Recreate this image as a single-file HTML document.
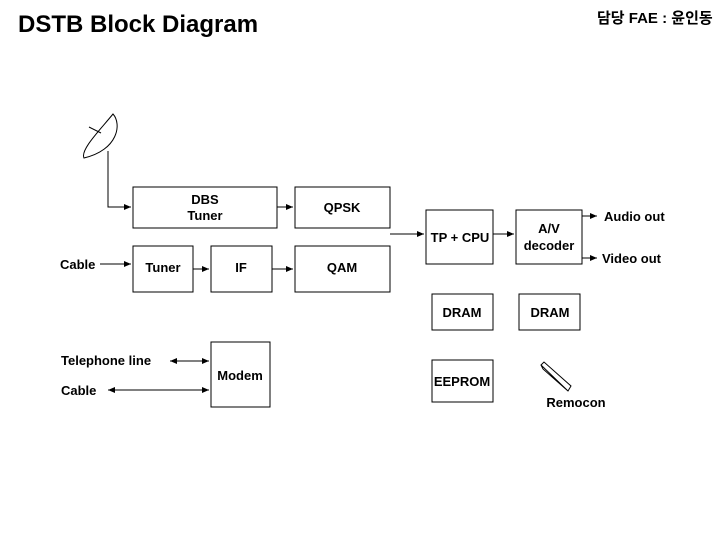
<!DOCTYPE html>
<html><head><meta charset="utf-8"><style>
body{margin:0;background:#fff;}
svg text{font-family:"Liberation Sans","Noto Sans CJK KR",sans-serif;font-weight:bold;font-size:13px;fill:#000;}
</style></head><body>
<svg width="720" height="540" viewBox="0 0 720 540" xmlns="http://www.w3.org/2000/svg">
<defs><marker id="a" markerWidth="8" markerHeight="8" refX="7" refY="4" orient="auto" markerUnits="userSpaceOnUse"><path d="M0,1 L7,4 L0,7z" fill="#000"/></marker>
<marker id="b" markerWidth="8" markerHeight="8" refX="1" refY="4" orient="auto" markerUnits="userSpaceOnUse"><path d="M8,1 L1,4 L8,7z" fill="#000"/></marker></defs>
<text x="18" y="32" style="font-size:24px">DSTB Block Diagram</text>
<text x="597" y="23" style="font-size:15px">담당 FAE : 윤인동</text>
<g fill="none" stroke="#000" stroke-width="1">
<path d="M113,114 C122,124 118,150 84,158 C80,150 100,130 113,114 Z"/>
<line x1="89" y1="127" x2="101" y2="133"/>
<polyline points="108,151 108,207 131,207" marker-end="url(#a)"/>
<rect x="133" y="187" width="144" height="41"/>
<rect x="295" y="187" width="95" height="41"/>
<rect x="133" y="246" width="60" height="46"/>
<rect x="211" y="246" width="61" height="46"/>
<rect x="295" y="246" width="95" height="46"/>
<rect x="426" y="210" width="67" height="54"/>
<rect x="516" y="210" width="66" height="54"/>
<rect x="432" y="294" width="61" height="36"/>
<rect x="519" y="294" width="61" height="36"/>
<rect x="432" y="360" width="61" height="42"/>
<rect x="211" y="342" width="59" height="65"/>
<line x1="277" y1="207" x2="293" y2="207" marker-end="url(#a)"/>
<line x1="100" y1="264" x2="131" y2="264" marker-end="url(#a)"/>
<line x1="193" y1="269" x2="209" y2="269" marker-end="url(#a)"/>
<line x1="272" y1="269" x2="293" y2="269" marker-end="url(#a)"/>
<line x1="390" y1="234" x2="424" y2="234" marker-end="url(#a)"/>
<line x1="493" y1="234" x2="514" y2="234" marker-end="url(#a)"/>
<line x1="582" y1="216" x2="597" y2="216" marker-end="url(#a)"/>
<line x1="582" y1="258" x2="597" y2="258" marker-end="url(#a)"/>
<line x1="170" y1="361" x2="209" y2="361" marker-start="url(#b)" marker-end="url(#a)"/>
<line x1="108" y1="390" x2="209" y2="390" marker-start="url(#b)" marker-end="url(#a)"/>
<path d="M541,365 L544,362 L571,386 L568,391 Z M541,365 L543,369 L568,391"/>
</g>
<text x="205" y="204" text-anchor="middle">DBS</text>
<text x="205" y="220" text-anchor="middle">Tuner</text>
<text x="342" y="212" text-anchor="middle">QPSK</text>
<text x="60" y="269">Cable</text>
<text x="163" y="272" text-anchor="middle">Tuner</text>
<text x="241" y="272" text-anchor="middle">IF</text>
<text x="342" y="272" text-anchor="middle">QAM</text>
<text x="460" y="242" text-anchor="middle">TP + CPU</text>
<text x="549" y="233" text-anchor="middle">A/V</text>
<text x="549" y="250" text-anchor="middle">decoder</text>
<text x="604" y="221">Audio out</text>
<text x="602" y="263">Video out</text>
<text x="462" y="317" text-anchor="middle">DRAM</text>
<text x="550" y="317" text-anchor="middle">DRAM</text>
<text x="462" y="386" text-anchor="middle">EEPROM</text>
<text x="576" y="407" text-anchor="middle">Remocon</text>
<text x="240" y="380" text-anchor="middle">Modem</text>
<text x="61" y="365">Telephone line</text>
<text x="61" y="395">Cable</text>
</svg>
</body></html>
